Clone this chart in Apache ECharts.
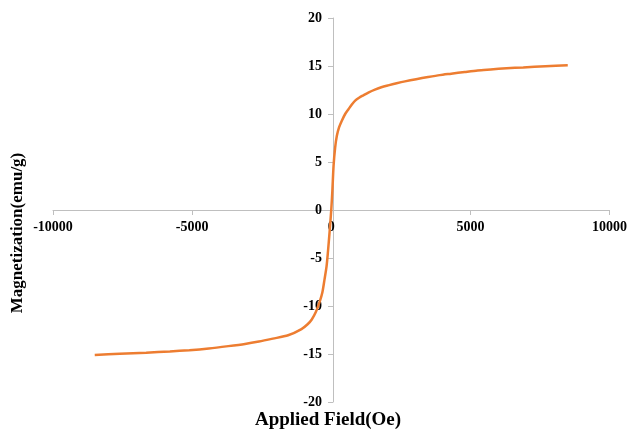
<!DOCTYPE html>
<html>
<head>
<meta charset="utf-8">
<script src="https://cdn.jsdelivr.net/npm/echarts@6/dist/echarts.min.js"></script>
<style>
  html, body { margin: 0; padding: 0; background: #ffffff; }
  #chart { width: 630px; height: 429px; }
</style>
</head>
<body>
<div id="chart"></div>
<script>
// M-H curve: applied field (Oe) vs magnetization (emu/g)
const fieldOe = [
  -8500, -7600, -6650, -5800, -5100, -4400, -3700, -3100, -2600, -2100,
  -1550, -1070, -850, -700, -550, -420, -320, -240, -170, -120, -60, 0,
  40, 83, 140, 200, 280, 380, 500, 620, 740, 860, 1000, 1155, 1350, 1570,
  1800, 2050, 2350, 2650, 3050, 3480, 3900, 4310, 4800, 5260, 5730, 6300,
  6900, 7700, 8500
];
const magnetization = [
  -15.1, -14.98, -14.86, -14.73, -14.6, -14.42, -14.18, -13.95, -13.7, -13.4,
  -13.05, -12.4, -11.9, -11.4, -10.6, -9.6, -8.6, -7.2, -5.9, -4.4, -2.3, 0,
  2.0, 4.6, 6.5, 7.7, 8.6, 9.3, 10.0, 10.5, 11.0, 11.4, 11.7, 11.95, 12.25, 12.53,
  12.78, 12.98, 13.2, 13.4, 13.63, 13.85, 14.05, 14.2, 14.38, 14.54, 14.64, 14.76,
  14.85, 14.97, 15.08
];
const xTicks = { min: -10000, max: 10000, step: 5000 };
const yTicks = { min: -20, max: 20, step: 5 };

const font = '"Liberation Serif", "Times New Roman", serif';
const axisGray = '#bfbfbf';

// plot area
const grid = { left: 53, right: 17, top: 18, bottom: 27 };
const W = 630, H = 429;
const plotW = W - grid.left - grid.right;
const plotH = H - grid.top - grid.bottom;

const chart = echarts.init(document.getElementById('chart'), null, { renderer: 'canvas' });
chart.setOption({
  animation: false,
  backgroundColor: '#ffffff',
  grid: Object.assign({ containLabel: false }, grid),
  xAxis: {
    type: 'value',
    position: 'bottom',
    // axes cross at the origin (middle of the symmetric ranges)
    offset: -plotH / 2,
    min: xTicks.min, max: xTicks.max, interval: xTicks.step,
    axisLine: { onZero: false, lineStyle: { color: axisGray, width: 1 } },
    axisTick: { show: true, inside: false, length: 5, lineStyle: { color: axisGray } },
    axisLabel: {
      fontFamily: font, fontWeight: 'bold', fontSize: 14, color: '#000', margin: 10,
      formatter: v => String(v)
    },
    splitLine: { show: false }
  },
  yAxis: {
    type: 'value',
    position: 'left',
    offset: -plotW / 2,
    min: yTicks.min, max: yTicks.max, interval: yTicks.step,
    axisLine: { onZero: false, lineStyle: { color: axisGray, width: 1 } },
    axisTick: { show: true, inside: false, length: 5, lineStyle: { color: axisGray } },
    axisLabel: {
      fontFamily: font, fontWeight: 'bold', fontSize: 14, color: '#000', margin: 11,
      formatter: v => String(v)
    },
    splitLine: { show: false }
  },
  graphic: [
    {
      type: 'text',
      x: 328, y: 420,
      style: {
        text: 'Applied Field(Oe)',
        font: 'bold 19px ' + font,
        fill: '#000',
        align: 'center',
        verticalAlign: 'middle'
      }
    },
    {
      type: 'text',
      x: 18, y: 233,
      rotation: Math.PI / 2,
      style: {
        text: 'Magnetization(emu/g)',
        font: 'bold 17px ' + font,
        fill: '#000',
        align: 'center',
        verticalAlign: 'middle'
      }
    }
  ],
  series: [{
    type: 'line',
    data: fieldOe.map((f, i) => [f, magnetization[i]]),
    smooth: 0.25,
    showSymbol: false,
    symbol: 'none',
    lineStyle: { color: '#ED7D31', width: 2.5 },
    clip: false
  }]
});
</script>
</body>
</html>
